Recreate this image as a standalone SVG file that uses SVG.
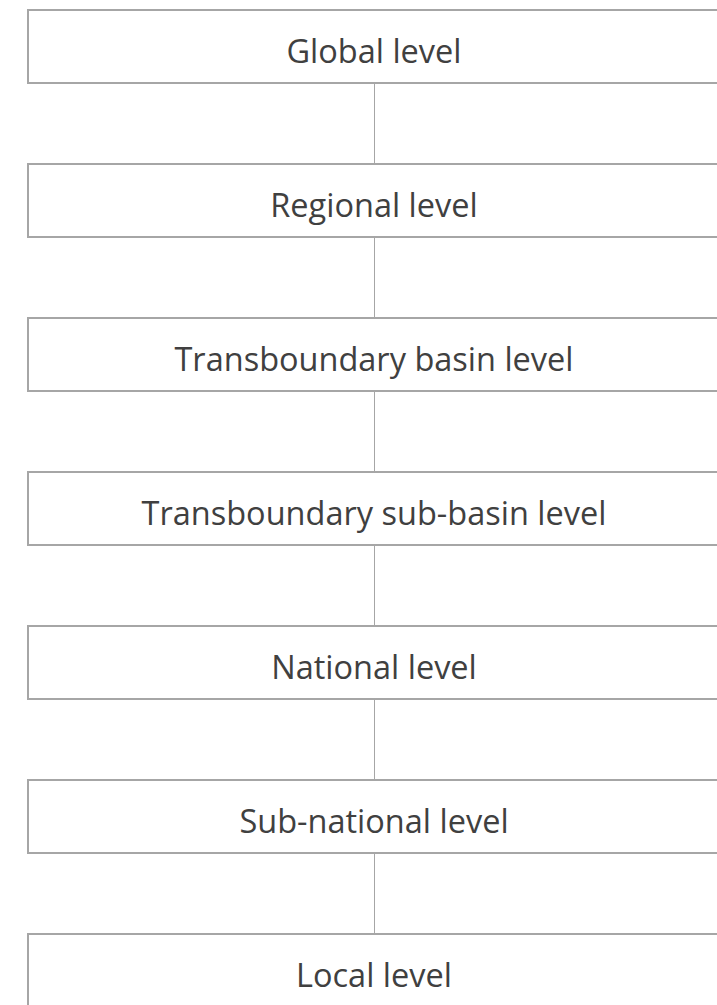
<svg xmlns="http://www.w3.org/2000/svg" width="717" height="1005" viewBox="0 0 717 1005">
<style>
.box{fill:#ffffff;stroke:#a6a6a6;stroke-width:2}
.lbl{font-family:"Open Sans","Liberation Sans",sans-serif;font-size:32.5px;fill:#404040;text-anchor:middle}
.conn{stroke:#a6a6a6;stroke-width:1;fill:none}
</style>
<rect width="717" height="1005" fill="#ffffff"/>
<g id="connectors">
<line class="conn" x1="374.5" y1="83" x2="374.5" y2="164"/>
<line class="conn" x1="374.5" y1="237" x2="374.5" y2="318"/>
<line class="conn" x1="374.5" y1="391" x2="374.5" y2="472"/>
<line class="conn" x1="374.5" y1="545" x2="374.5" y2="626"/>
<line class="conn" x1="374.5" y1="699" x2="374.5" y2="780"/>
<line class="conn" x1="374.5" y1="853" x2="374.5" y2="934"/>
</g>
<g id="global"><rect class="box" x="28" y="10" width="720" height="73"/><text class="lbl" x="374" y="63">Global level</text></g>
<g id="regional"><rect class="box" x="28" y="164" width="720" height="73"/><text class="lbl" x="374" y="217">Regional level</text></g>
<g id="basin"><rect class="box" x="28" y="318" width="720" height="73"/><text class="lbl" x="374" y="371">Transboundary basin level</text></g>
<g id="subbasin"><rect class="box" x="28" y="472" width="720" height="73"/><text class="lbl" x="374" y="525">Transboundary sub-basin level</text></g>
<g id="national"><rect class="box" x="28" y="626" width="720" height="73"/><text class="lbl" x="374" y="679">National level</text></g>
<g id="subnational"><rect class="box" x="28" y="780" width="720" height="73"/><text class="lbl" x="374" y="833">Sub-national level</text></g>
<g id="local"><rect class="box" x="28" y="934" width="720" height="73"/><text class="lbl" x="374" y="987">Local level</text></g>
</svg>
